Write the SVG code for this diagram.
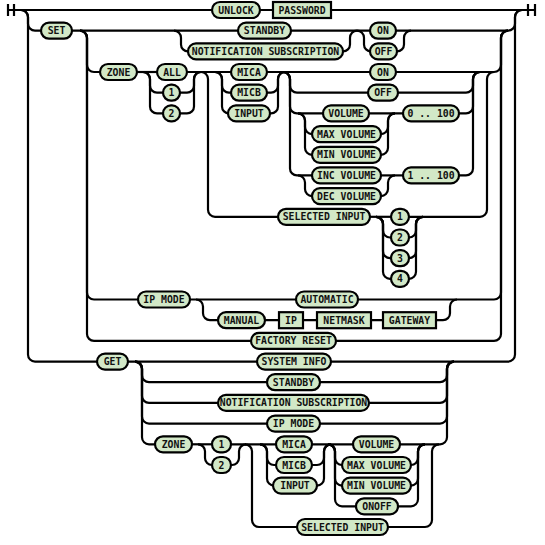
<svg xmlns="http://www.w3.org/2000/svg" width="545" height="545" viewBox="0 0 545 545">
<style>
.c{fill:none;stroke:#000;stroke-width:2.2}
.t{fill:#d2e8c7;stroke:#000;stroke-width:2.2}
.n{fill:#d2e8c7;stroke:#000;stroke-width:2.2}
text{font-family:"DejaVu Sans Mono","Liberation Mono",monospace;font-weight:bold;font-size:9.8px;fill:#111;text-anchor:middle}
</style>
<rect width="545" height="545" fill="#fff"/>
<g id="connectors" class="c">
<path d="M8 4v12M14 4v12M8 10H212M260 10H273M331 10H535M528 4v12M535 4v12"/>
<path d="M21 10a7 7 0 0 1 7 7V23.7a7 7 0 0 0 7 7H41"/>
<path d="M21 10a7 7 0 0 1 7 7V354.6a7 7 0 0 0 7 7H97"/>
<path d="M72 30.7H238M291 30.7H370"/>
<path d="M396 30.7H508a7 7 0 0 0 7 -7V17a7 7 0 0 1 7 -7"/>
<path d="M128 361.6H257M331 361.6H508a7 7 0 0 0 7 -7V17a7 7 0 0 1 7 -7"/>
<path d="M174 30.7a7 7 0 0 1 7 7V44.4a7 7 0 0 0 7 7H188"/>
<path d="M343 51.4a7 7 0 0 0 7 -7V37.7a7 7 0 0 1 7 -7"/>
<path d="M357 30.7a7 7 0 0 1 7 7V44.4a7 7 0 0 0 7 7H371"/>
<path d="M397 51.4a7 7 0 0 0 7 -7V37.7a7 7 0 0 1 7 -7"/>
<path d="M80 30.7a7 7 0 0 1 7 7V65a7 7 0 0 0 7 7H100"/>
<path d="M80 30.7a7 7 0 0 1 7 7V292.5a7 7 0 0 0 7 7H138"/>
<path d="M80 30.7a7 7 0 0 1 7 7V333.9a7 7 0 0 0 7 7H251"/>
<path d="M396 72H494a7 7 0 0 0 7 -7V37.7a7 7 0 0 1 7 -7"/>
<path d="M358 299.5H494a7 7 0 0 0 7 -7V37.7a7 7 0 0 1 7 -7"/>
<path d="M336 340.9H494a7 7 0 0 0 7 -7V37.7a7 7 0 0 1 7 -7"/>
<path d="M137 72H157"/>
<path d="M143 72a7 7 0 0 1 7 7V85.7a7 7 0 0 0 7 7H163"/>
<path d="M143 72a7 7 0 0 1 7 7V106.4a7 7 0 0 0 7 7H163"/>
<path d="M187 72H231"/>
<path d="M180 92.7H187a7 7 0 0 0 7 -7V79a7 7 0 0 1 7 -7"/>
<path d="M180 113.4H187a7 7 0 0 0 7 -7V79a7 7 0 0 1 7 -7"/>
<path d="M201 72a7 7 0 0 1 7 7V209.8a7 7 0 0 0 7 7H278"/>
<path d="M215 72a7 7 0 0 1 7 7V85.7a7 7 0 0 0 7 7H231"/>
<path d="M215 72a7 7 0 0 1 7 7V106.4a7 7 0 0 0 7 7H229"/>
<path d="M267 92.7H271a7 7 0 0 0 7 -7V79a7 7 0 0 1 7 -7"/>
<path d="M270 113.4H271a7 7 0 0 0 7 -7V79a7 7 0 0 1 7 -7"/>
<path d="M267 72H370"/>
<path d="M283 72a7 7 0 0 1 7 7V85.7a7 7 0 0 0 7 7H368"/>
<path d="M283 72a7 7 0 0 1 7 7V106.4a7 7 0 0 0 7 7H323"/>
<path d="M283 72a7 7 0 0 1 7 7V168.4a7 7 0 0 0 7 7H312"/>
<path d="M298 113.4a7 7 0 0 1 7 7V127.1a7 7 0 0 0 7 7H312"/>
<path d="M298 113.4a7 7 0 0 1 7 7V147.8a7 7 0 0 0 7 7H312"/>
<path d="M381 134.1a7 7 0 0 0 7 -7V120.4a7 7 0 0 1 7 -7"/>
<path d="M381 154.8a7 7 0 0 0 7 -7V120.4a7 7 0 0 1 7 -7"/>
<path d="M369 113.4H403"/>
<path d="M459 113.4H466a7 7 0 0 0 7 -7V79a7 7 0 0 1 7 -7"/>
<path d="M398 92.7H466a7 7 0 0 0 7 -7V79a7 7 0 0 1 7 -7"/>
<path d="M298 175.4a7 7 0 0 1 7 7V189.1a7 7 0 0 0 7 7H312"/>
<path d="M381 196.1a7 7 0 0 0 7 -7V182.4a7 7 0 0 1 7 -7"/>
<path d="M381 175.4H403"/>
<path d="M459 175.4H466a7 7 0 0 0 7 -7V79a7 7 0 0 1 7 -7"/>
<path d="M370 216.8H391"/>
<path d="M376 216.8a7 7 0 0 1 7 7V230.5a7 7 0 0 0 7 7H391"/>
<path d="M376 216.8a7 7 0 0 1 7 7V251.2a7 7 0 0 0 7 7H391"/>
<path d="M376 216.8a7 7 0 0 1 7 7V271.8a7 7 0 0 0 7 7H391"/>
<path d="M409 237.5a7 7 0 0 0 7 -7V223.8a7 7 0 0 1 7 -7"/>
<path d="M409 258.2a7 7 0 0 0 7 -7V223.8a7 7 0 0 1 7 -7"/>
<path d="M409 278.8a7 7 0 0 0 7 -7V223.8a7 7 0 0 1 7 -7"/>
<path d="M409 216.8H480a7 7 0 0 0 7 -7V79a7 7 0 0 1 7 -7"/>
<path d="M190 299.5H296"/>
<path d="M196 299.5a7 7 0 0 1 7 7V313.2a7 7 0 0 0 7 7H218"/>
<path d="M265 320.2H279M303 320.2H317M371 320.2H383"/>
<path d="M436 320.2H443a7 7 0 0 0 7 -7V306.5a7 7 0 0 1 7 -7"/>
<path d="M135 361.6a7 7 0 0 1 7 7V375.2a7 7 0 0 0 7 7H267"/>
<path d="M135 361.6a7 7 0 0 1 7 7V395.9a7 7 0 0 0 7 7H218"/>
<path d="M135 361.6a7 7 0 0 1 7 7V416.6a7 7 0 0 0 7 7H267"/>
<path d="M135 361.6a7 7 0 0 1 7 7V437.3a7 7 0 0 0 7 7H155"/>
<path d="M320 382.2H440a7 7 0 0 0 7 -7V368.6a7 7 0 0 1 7 -7"/>
<path d="M369 402.9H440a7 7 0 0 0 7 -7V368.6a7 7 0 0 1 7 -7"/>
<path d="M320 423.6H440a7 7 0 0 0 7 -7V368.6a7 7 0 0 1 7 -7"/>
<path d="M400 444.3H440a7 7 0 0 0 7 -7V368.6a7 7 0 0 1 7 -7"/>
<path d="M192 444.3H212"/>
<path d="M198 444.3a7 7 0 0 1 7 7V458a7 7 0 0 0 7 7H212"/>
<path d="M231 465H232a7 7 0 0 0 7 -7V451.3a7 7 0 0 1 7 -7"/>
<path d="M231 444.3H276"/>
<path d="M245 444.3a7 7 0 0 1 7 7V520a7 7 0 0 0 7 7H297"/>
<path d="M260 444.3a7 7 0 0 1 7 7V458a7 7 0 0 0 7 7H276"/>
<path d="M260 444.3a7 7 0 0 1 7 7V478.6a7 7 0 0 0 7 7H273"/>
<path d="M312 465H317a7 7 0 0 0 7 -7V451.3a7 7 0 0 1 7 -7"/>
<path d="M317 485.6a7 7 0 0 0 7 -7V451.3a7 7 0 0 1 7 -7"/>
<path d="M312 444.3H353"/>
<path d="M328 444.3a7 7 0 0 1 7 7V458a7 7 0 0 0 7 7H342"/>
<path d="M328 444.3a7 7 0 0 1 7 7V478.6a7 7 0 0 0 7 7H342"/>
<path d="M328 444.3a7 7 0 0 1 7 7V499.3a7 7 0 0 0 7 7H356"/>
<path d="M411 465a7 7 0 0 0 7 -7V451.3a7 7 0 0 1 7 -7"/>
<path d="M411 485.6a7 7 0 0 0 7 -7V451.3a7 7 0 0 1 7 -7"/>
<path d="M398 506.3H411a7 7 0 0 0 7 -7V451.3a7 7 0 0 1 7 -7"/>
<path d="M388 527H425a7 7 0 0 0 7 -7V451.3a7 7 0 0 1 7 -7"/>
</g>
<g id="unlock"><rect class="t" x="212" y="2" width="48" height="16" rx="8"/><text x="236" y="13.5">UNLOCK</text></g>
<g id="password"><rect class="n" x="273" y="2" width="58" height="16"/><text x="302" y="13.5">PASSWORD</text></g>
<g id="set"><rect class="t" x="41" y="22.7" width="31" height="16" rx="8"/><text x="56.5" y="34.2">SET</text></g>
<g id="set-standby"><rect class="t" x="238" y="22.7" width="53" height="16" rx="8"/><text x="264.5" y="34.2">STANDBY</text></g>
<g id="set-notif"><rect class="t" x="188" y="43.4" width="155" height="16" rx="8"/><text x="265.5" y="54.9">NOTIFICATION SUBSCRIPTION</text></g>
<g id="set-on"><rect class="t" x="370" y="22.7" width="26" height="16" rx="8"/><text x="383" y="34.2">ON</text></g>
<g id="set-off"><rect class="t" x="370" y="43.4" width="27" height="16" rx="8"/><text x="383.5" y="54.9">OFF</text></g>
<g id="set-zone"><rect class="t" x="100" y="64" width="37" height="16" rx="8"/><text x="118.5" y="75.5">ZONE</text></g>
<g id="set-all"><rect class="t" x="157" y="64" width="30" height="16" rx="8"/><text x="172" y="75.5">ALL</text></g>
<g id="set-z1"><rect class="t" x="163" y="84.7" width="17" height="16" rx="8"/><text x="171.5" y="96.2">1</text></g>
<g id="set-z2"><rect class="t" x="163" y="105.4" width="17" height="16" rx="8"/><text x="171.5" y="116.9">2</text></g>
<g id="set-mica"><rect class="t" x="231" y="64" width="36" height="16" rx="8"/><text x="249" y="75.5">MICA</text></g>
<g id="set-micb"><rect class="t" x="231" y="84.7" width="36" height="16" rx="8"/><text x="249" y="96.2">MICB</text></g>
<g id="set-input"><rect class="t" x="228" y="105.4" width="42" height="16" rx="8"/><text x="249" y="116.9">INPUT</text></g>
<g id="set-zon"><rect class="t" x="370" y="64" width="26" height="16" rx="8"/><text x="383" y="75.5">ON</text></g>
<g id="set-zoff"><rect class="t" x="368" y="84.7" width="30" height="16" rx="8"/><text x="383" y="96.2">OFF</text></g>
<g id="set-volume"><rect class="t" x="323" y="105.4" width="46" height="16" rx="8"/><text x="346" y="116.9">VOLUME</text></g>
<g id="set-maxvol"><rect class="t" x="312" y="126.1" width="69" height="16" rx="8"/><text x="346.5" y="137.6">MAX VOLUME</text></g>
<g id="set-minvol"><rect class="t" x="312" y="146.8" width="69" height="16" rx="8"/><text x="346.5" y="158.3">MIN VOLUME</text></g>
<g id="set-range100"><rect class="t" x="403" y="105.4" width="56" height="16" rx="8"/><text x="431" y="116.9">0 .. 100</text></g>
<g id="set-incvol"><rect class="t" x="312" y="167.4" width="69" height="16" rx="8"/><text x="346.5" y="178.9">INC VOLUME</text></g>
<g id="set-decvol"><rect class="t" x="312" y="188.1" width="69" height="16" rx="8"/><text x="346.5" y="199.6">DEC VOLUME</text></g>
<g id="set-range1"><rect class="t" x="403" y="167.4" width="56" height="16" rx="8"/><text x="431" y="178.9">1 .. 100</text></g>
<g id="set-selinput"><rect class="t" x="278" y="208.8" width="92" height="16" rx="8"/><text x="324" y="220.3">SELECTED INPUT</text></g>
<g id="set-s1"><rect class="t" x="391" y="208.8" width="18" height="16" rx="8"/><text x="400" y="220.3">1</text></g>
<g id="set-s2"><rect class="t" x="391" y="229.5" width="18" height="16" rx="8"/><text x="400" y="241">2</text></g>
<g id="set-s3"><rect class="t" x="391" y="250.2" width="18" height="16" rx="8"/><text x="400" y="261.7">3</text></g>
<g id="set-s4"><rect class="t" x="391" y="270.8" width="18" height="16" rx="8"/><text x="400" y="282.3">4</text></g>
<g id="set-ipmode"><rect class="t" x="138" y="291.5" width="52" height="16" rx="8"/><text x="164" y="303">IP MODE</text></g>
<g id="set-automatic"><rect class="t" x="296" y="291.5" width="62" height="16" rx="8"/><text x="327" y="303">AUTOMATIC</text></g>
<g id="set-manual"><rect class="t" x="218" y="312.2" width="47" height="16" rx="8"/><text x="241.5" y="323.7">MANUAL</text></g>
<g id="set-ip"><rect class="n" x="279" y="312.2" width="24" height="16"/><text x="291" y="323.7">IP</text></g>
<g id="set-netmask"><rect class="n" x="317" y="312.2" width="54" height="16"/><text x="344" y="323.7">NETMASK</text></g>
<g id="set-gateway"><rect class="n" x="383" y="312.2" width="53" height="16"/><text x="409.5" y="323.7">GATEWAY</text></g>
<g id="set-factory"><rect class="t" x="251" y="332.9" width="85" height="16" rx="8"/><text x="293.5" y="344.4">FACTORY RESET</text></g>
<g id="get"><rect class="t" x="97" y="353.6" width="31" height="16" rx="8"/><text x="112.5" y="365.1">GET</text></g>
<g id="get-sysinfo"><rect class="t" x="257" y="353.6" width="74" height="16" rx="8"/><text x="294" y="365.1">SYSTEM INFO</text></g>
<g id="get-standby"><rect class="t" x="267" y="374.2" width="53" height="16" rx="8"/><text x="293.5" y="385.7">STANDBY</text></g>
<g id="get-notif"><rect class="t" x="218" y="394.9" width="151" height="16" rx="8"/><text x="293.5" y="406.4">NOTIFICATION SUBSCRIPTION</text></g>
<g id="get-ipmode"><rect class="t" x="267" y="415.6" width="53" height="16" rx="8"/><text x="293.5" y="427.1">IP MODE</text></g>
<g id="get-zone"><rect class="t" x="155" y="436.3" width="37" height="16" rx="8"/><text x="173.5" y="447.8">ZONE</text></g>
<g id="get-z1"><rect class="t" x="212" y="436.3" width="19" height="16" rx="8"/><text x="221.5" y="447.8">1</text></g>
<g id="get-z2"><rect class="t" x="212" y="457" width="19" height="16" rx="8"/><text x="221.5" y="468.5">2</text></g>
<g id="get-mica"><rect class="t" x="276" y="436.3" width="36" height="16" rx="8"/><text x="294" y="447.8">MICA</text></g>
<g id="get-micb"><rect class="t" x="276" y="457" width="36" height="16" rx="8"/><text x="294" y="468.5">MICB</text></g>
<g id="get-input"><rect class="t" x="273" y="477.6" width="44" height="16" rx="8"/><text x="295" y="489.1">INPUT</text></g>
<g id="get-volume"><rect class="t" x="353" y="436.3" width="47" height="16" rx="8"/><text x="376.5" y="447.8">VOLUME</text></g>
<g id="get-maxvol"><rect class="t" x="342" y="457" width="69" height="16" rx="8"/><text x="376.5" y="468.5">MAX VOLUME</text></g>
<g id="get-minvol"><rect class="t" x="342" y="477.6" width="69" height="16" rx="8"/><text x="376.5" y="489.1">MIN VOLUME</text></g>
<g id="get-onoff"><rect class="t" x="356" y="498.3" width="42" height="16" rx="8"/><text x="377" y="509.8">ONOFF</text></g>
<g id="get-selinput"><rect class="t" x="297" y="519" width="91" height="16" rx="8"/><text x="342.5" y="530.5">SELECTED INPUT</text></g>
</svg>
